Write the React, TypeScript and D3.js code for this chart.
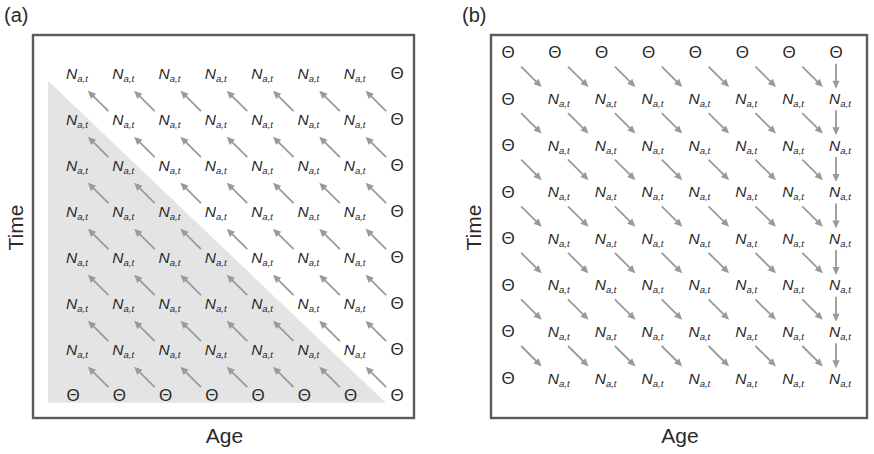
import React from "react";
import * as d3 from "d3";

const W = 874;
const H = 454;

// Grid contents (rows top->bottom, columns left->right)
const panelAGrid: string[][] = [
  ["N", "N", "N", "N", "N", "N", "N", "Θ"],
  ["N", "N", "N", "N", "N", "N", "N", "Θ"],
  ["N", "N", "N", "N", "N", "N", "N", "Θ"],
  ["N", "N", "N", "N", "N", "N", "N", "Θ"],
  ["N", "N", "N", "N", "N", "N", "N", "Θ"],
  ["N", "N", "N", "N", "N", "N", "N", "Θ"],
  ["N", "N", "N", "N", "N", "N", "N", "Θ"],
  ["Θ", "Θ", "Θ", "Θ", "Θ", "Θ", "Θ", "Θ"],
];
const panelBGrid: string[][] = [
  ["Θ", "Θ", "Θ", "Θ", "Θ", "Θ", "Θ", "Θ"],
  ["Θ", "N", "N", "N", "N", "N", "N", "N"],
  ["Θ", "N", "N", "N", "N", "N", "N", "N"],
  ["Θ", "N", "N", "N", "N", "N", "N", "N"],
  ["Θ", "N", "N", "N", "N", "N", "N", "N"],
  ["Θ", "N", "N", "N", "N", "N", "N", "N"],
  ["Θ", "N", "N", "N", "N", "N", "N", "N"],
  ["Θ", "N", "N", "N", "N", "N", "N", "N"],
];
const panelLabels = ["(a)", "(b)"];
const xAxisLabel = "Age";
const yAxisLabel = "Time";
const cellMain = "N";
const cellSub = "a,t";

// Arrow lists: [fromRow, fromCol, toRow, toCol]
const panelAArrows: number[][] = [];
for (let r = 0; r < 7; r++)
  for (let c = 0; c < 7; c++) panelAArrows.push([r + 1, c + 1, r, c]);
const panelBArrows: number[][] = [];
for (let r = 0; r < 7; r++) {
  for (let c = 0; c < 7; c++) panelBArrows.push([r, c, r + 1, c + 1]);
  panelBArrows.push([r, 7, r + 1, 7]);
}

const FONT = "'Liberation Sans', Arial, Helvetica, sans-serif";
const TEXT = "#2a2a2a";
const ARROW = "#9a9a9a";

type Sc = d3.ScaleLinear<number, number>;

function Arrow({ x1, y1, x2, y2, len, off }: any) {
  const dx = x2 - x1, dy = y2 - y1;
  const d = Math.hypot(dx, dy);
  const ux = dx / d, uy = dy / d;
  const mx = (x1 + x2) / 2 + off[0];
  const my = (y1 + y2) / 2 + off[1];
  const tx = mx - (ux * len) / 2, ty = my - (uy * len) / 2;
  const hx = mx + (ux * len) / 2, hy = my + (uy * len) / 2;
  const hl = 8, hw = 3.6;
  const bx = hx - ux * hl, by = hy - uy * hl;
  const px = -uy, py = ux;
  return (
    <g>
      <line x1={tx} y1={ty} x2={bx + ux * 1} y2={by + uy * 1} stroke={ARROW} strokeWidth={1.8} />
      <polygon
        points={`${hx},${hy} ${bx + px * hw},${by + py * hw} ${bx - px * hw},${by - py * hw}`}
        fill={ARROW}
      />
    </g>
  );
}

function Cell({ x, y, kind }: { x: number; y: number; kind: string }) {
  if (kind === "Θ") {
    return (
      <text x={x} y={y + 6} textAnchor="middle" fontSize={17} fill={TEXT} fontFamily={FONT}>
        Θ
      </text>
    );
  }
  return (
    <text x={x - 7} y={y + 5.5} fontSize={15.5} fill={TEXT} fontFamily={FONT} fontStyle="italic">
      <tspan>{cellMain}</tspan>
      <tspan fontSize={9.5} dy={3}>{cellSub}</tspan>
    </text>
  );
}

function Panel({ grid, arrows, xs, ys, box, tri, off, labelIdx }: any) {
  const [bx0, by0, bx1, by1] = box;
  return (
    <g>
      <text x={labelIdx === 0 ? 4 : 462} y={22} fontSize={20} fill={TEXT} fontFamily={FONT}>
        {panelLabels[labelIdx]}
      </text>
      <rect x={bx0} y={by0} width={bx1 - bx0} height={by1 - by0} fill="#fff" stroke="#5a5a5a" strokeWidth={2.4} />
      {tri && (
        <polygon
          points={tri.map((p: number[]) => `${xs(p[0])},${ys(p[1])}`).join(" ")}
          fill="#e4e4e4"
        />
      )}
      {arrows.map((a: number[], i: number) => (
        <Arrow
          key={i}
          x1={xs(a[1])}
          y1={ys(a[0])}
          x2={xs(a[3])}
          y2={ys(a[2])}
          len={a[1] === a[3] ? 25 : 29}
          off={a[1] === a[3] ? [0, 1] : off}
        />
      ))}
      {grid.map((row: string[], r: number) =>
        row.map((k: string, c: number) => <Cell key={`${r}-${c}`} x={xs(c)} y={ys(r)} kind={k} />)
      )}
      <text x={(bx0 + bx1) / 2 + 1} y={443} textAnchor="middle" fontSize={21} fill={TEXT} fontFamily={FONT}>
        {xAxisLabel}
      </text>
      <text
        transform={`translate(${bx0 - 10},${(by0 + by1) / 2 + 1}) rotate(-90)`}
        textAnchor="middle"
        fontSize={21}
        fill={TEXT}
        fontFamily={FONT}
      >
        {yAxisLabel}
      </text>
    </g>
  );
}

export default function App() {
  const xsA: Sc = d3.scaleLinear().domain([0, 7]).range([73, 397]);
  const ysA: Sc = d3.scaleLinear().domain([0, 7]).range([73, 395]);
  const xsB: Sc = d3.scaleLinear().domain([0, 7]).range([508, 836]);
  const ysB: Sc = d3.scaleLinear().domain([0, 7]).range([52, 378]);
  const triA = [
    [-0.54, 0.17],
    [-0.54, 7.17],
    [6.76, 7.17],
  ];
  return (
    <svg width={W} height={H} style={{ position: "absolute", left: 0, top: 0, background: "#fff" }}>
      <rect width={W} height={H} fill="#fff" />
      <Panel grid={panelAGrid} arrows={panelAArrows} xs={xsA} ys={ysA} box={[33, 35, 414, 418]} tri={triA} off={[2, 5]} labelIdx={0} />
      <Panel grid={panelBGrid} arrows={panelBArrows} xs={xsB} ys={ysB} box={[491, 35, 867, 418]} tri={null} off={[0, 1.5]} labelIdx={1} />
    </svg>
  );
}
